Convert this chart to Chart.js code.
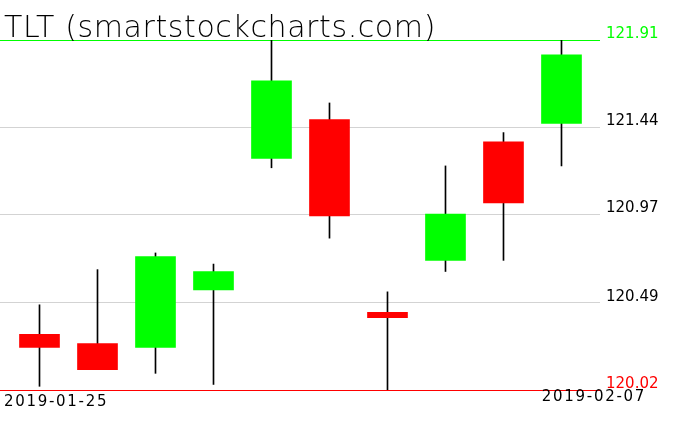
<!DOCTYPE html>
<html>
<head>
<meta charset="utf-8">
<script src="https://cdn.jsdelivr.net/npm/chart.js@4"></script>
<style>
  html, body { margin: 0; padding: 0; background: #fff; }
  #wrap { width: 676px; height: 431px; }
</style>
</head>
<body>
<div id="wrap"><canvas id="chart" width="676" height="431"></canvas></div>
<script>
const ticker = "TLT";
const dates = ["2019-01-25", "2019-01-28", "2019-01-29", "2019-01-30", "2019-01-31",
               "2019-02-01", "2019-02-04", "2019-02-05", "2019-02-06", "2019-02-07"];
const openP  = [120.32, 120.27, 120.25, 120.56, 121.27, 121.48, 120.44, 120.72, 121.36, 121.46];
const highP  = [120.48, 120.67, 120.76, 120.70, 121.91, 121.57, 120.55, 121.23, 121.41, 121.91];
const lowP   = [120.04, 120.13, 120.11, 120.05, 121.22, 120.84, 120.02, 120.66, 120.72, 121.23];
const closeP = [120.25, 120.13, 120.74, 120.66, 121.69, 120.96, 120.41, 120.97, 121.03, 121.83];
const yTicks = [120.02, 120.49, 120.97, 121.44, 121.91];

const GREEN = "#00ff00", RED = "#ff0000", GRID = "#d3d3d3";
const FONT = "'DejaVu Sans', sans-serif";

const bodies = dates.map((d, i) => ({ x: i, y: [openP[i], closeP[i]] }));
const wicks = dates.map((d, i) => ({ x: i, y: [lowP[i], highP[i]] }));
const bodyColors = dates.map((d, i) => closeP[i] >= openP[i] ? GREEN : RED);

// title and first/last date, drawn as plain text
const textPlugin = {
  id: "texts",
  afterDraw(chart) {
    const ctx = chart.ctx;
    const area = chart.chartArea;
    ctx.save();
    ctx.fillStyle = "#000";
    ctx.textBaseline = "alphabetic";
    ctx.font = "200 30px " + FONT;
    ctx.letterSpacing = "0.6px";
    ctx.textAlign = "left";
    ctx.fillText(ticker + " (smartstockcharts.com)", 4, 37);
    ctx.font = "15px " + FONT;
    ctx.letterSpacing = "1.7px";
    ctx.fillText(dates[0], area.left + 4, area.bottom + 16);
    ctx.textAlign = "right";
    ctx.fillText(dates[dates.length - 1], area.right + 46, area.bottom + 11);
    ctx.restore();
  }
};

new Chart(document.getElementById("chart"), {
  type: "bar",
  data: {
    datasets: [
      {
        data: bodies,
        backgroundColor: bodyColors,
        barThickness: 40,
        grouped: false,
        borderWidth: 0
      },
      {
        data: wicks,
        backgroundColor: "#000",
        barThickness: 1,
        grouped: false,
        borderWidth: 0
      }
    ]
  },
  options: {
    responsive: false,
    animation: false,
    layout: { padding: { top: 40, bottom: 41, left: 0, right: 0 } },
    plugins: {
      legend: { display: false },
      title: { display: false },
      tooltip: { enabled: false }
    },
    scales: {
      x: {
        type: "linear",
        offset: false,
        min: -0.681,
        max: 9.664,
        display: false,
        grid: { offset: false }
      },
      y: {
        position: "right",
        min: 120.02,
        max: 121.91,
        afterBuildTicks: (scale) => { scale.ticks = yTicks.map(v => ({ value: v })); },
        afterFit: (scale) => { scale.width = 76; },
        border: { display: false },
        grid: {
          drawTicks: false,
          lineWidth: 1,
          color: (c) => c.index === 0 ? RED : (c.index === yTicks.length - 1 ? GREEN : GRID)
        },
        ticks: {
          padding: 6,
          labelOffset: -6,
          font: { family: FONT, size: 15 },
          color: (c) => c.index === 0 ? RED : (c.index === yTicks.length - 1 ? GREEN : "#000"),
          callback: (v) => Number(v).toFixed(2)
        }
      }
    }
  },
  plugins: [textPlugin]
});
</script>
</body>
</html>
